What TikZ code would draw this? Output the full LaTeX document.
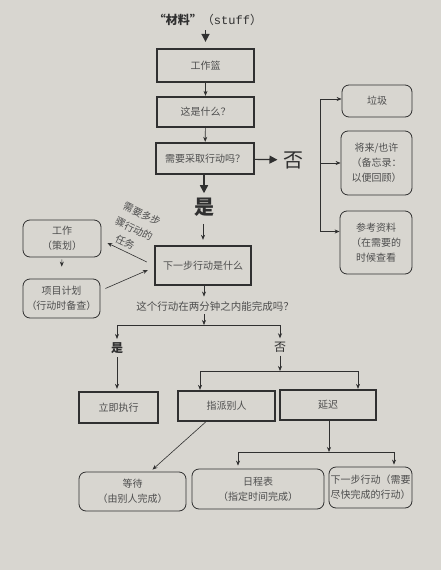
\documentclass[tikz,border=0pt]{standalone}
\usepackage{fontspec}
\setmainfont{Noto Sans CJK SC}
\newfontfamily\stufffont{Liberation Mono}
\usetikzlibrary{arrows.meta,positioning,calc}
\definecolor{paper}{RGB}{216,214,208}
\definecolor{ink}{RGB}{48,48,48}
\definecolor{txt}{RGB}{78,78,78}
\tikzset{
  thickbox/.style={draw=ink, line width=2.3pt, text=txt, inner sep=0pt,
    font=\fontsize{10}{12}\selectfont},
  softbox/.style={draw=ink, line width=0.8pt, rounded corners=7pt, text=txt,
    align=center, inner sep=0pt, font=\fontsize{10}{15}\selectfont},
  link/.style={draw=ink, line width=0.6pt, -{Stealth[length=5pt,width=4pt]}},
  biglink/.style={draw=ink, line width=1.6pt, -{Triangle[length=8pt,width=8pt]}},
  bigword/.style={text=ink, font=\fontsize{20}{22}\selectfont},
  smallword/.style={text=ink, font=\fontsize{12}{14}\selectfont},
  slanted/.style={text=txt, rotate=-26, inner sep=0pt, font=\fontsize{10}{12}\selectfont},
}
\begin{document}
\begin{tikzpicture}[x=1pt, y=-1pt]
			\fill[paper] (0,0) rectangle (441,570);
			\path[use as bounding box] (0,0) rectangle (441,570);
			\node[text=ink, font=\fontsize{12}{14}\selectfont] (stuff) at (208,20) {\textbf{“材料”}（{\stufffont stuff}）};
			\node[thickbox, minimum width=97, minimum height=33] (basket) at (205.5,65.5) {工作篮};
			\node[thickbox, minimum width=97, minimum height=30] (what) at (205.5,112) {这是什么？};
			\node[thickbox, minimum width=98, minimum height=31] (act) at (205,158.5) {需要采取行动吗？};
			\node[bigword] (no1) at (293,160) {否};
			\node[bigword, font=\fontsize{20}{22}\selectfont\bfseries] (yes1) at (204,207) {是};
			\node[thickbox, minimum width=96, minimum height=39] (next) at (203,265.5) {下一步行动是什么};
			\node[softbox, minimum width=70, minimum height=32] (trash) at (377,101) {垃圾};
			\node[softbox, minimum width=71, minimum height=64] (maybe) at (376.5,163) {将来/也许\\（备忘录：\\以便回顾）};
			\node[softbox, minimum width=72, minimum height=63] (ref) at (376,242.5) {参考资料\\（在需要的\\时候查看};
			\node[softbox, minimum width=78, minimum height=37] (plan) at (62,238.5) {工作\\（策划）};
			\node[softbox, minimum width=77, minimum height=39] (proj) at (61.5,298.5) {项目计划\\（行动时备查）};
			\node[slanted] (multia) at (142,214) {需要多步};
			\node[slanted] (multib) at (134,229) {骤行动的};
			\node[slanted] (multic) at (125,242) {任务};
			\node[text=txt, font=\fontsize{10.5}{12}\selectfont] (quest) at (215,306) {这个行动在两分钟之内能完成吗？};
			\node[smallword, font=\fontsize{12}{14}\selectfont\bfseries] (yes2) at (117,348) {是};
			\node[smallword] (no2) at (280,347) {否};
			\node[thickbox, minimum width=79, minimum height=31] (doit) at (118.5,407.5) {立即执行};
			\node[thickbox, minimum width=97, minimum height=30] (deleg) at (226.5,406) {指派别人};
			\node[thickbox, minimum width=96, minimum height=30] (defer) at (328,405) {延迟};
			\node[softbox, minimum width=107, minimum height=39] (wait) at (132.5,491.5) {等待\\（由别人完成）};
			\node[softbox, minimum width=132, minimum height=40] (cal) at (258,489) {日程表\\（指定时间完成）};
			\node[softbox, minimum width=83, minimum height=41] (asap) at (370.5,487.5) {下一步行动（需要\\尽快完成的行动）};
			\coordinate (fork) at (320,163);
			\coordinate (split) at (204,325);
			\coordinate (split2) at (280,371);
			\coordinate (split3) at (329,452);
			\draw[biglink, shorten <=1pt, shorten >=6pt] (stuff.south -| basket) -- (basket);
			\draw[link] (basket) -- (what);
			\draw[link] (what) -- (act);
			\draw[biglink, line width=1.2pt, shorten >=2pt] (act) -- (no1);
			\draw[biglink, shorten >=1pt] (act.south -| yes1) -- (yes1);
			\draw[link, shorten <=4pt, shorten >=5pt] (yes1.south -| next) -- (next);
			\draw[link] (fork) |- ([yshift=2pt]trash.west);
			\draw[link] (fork) -- (maybe.west);
			\draw[link] (fork) |- ([yshift=11pt]ref.west);
			\draw[link, shorten <=2pt, shorten >=12pt] (plan) -- (proj);
			\draw[link] ([shift={(-7pt,3.5pt)}]next.west) -- ([shift={(6pt,-4.5pt)}]plan.east);
			\draw[link] ([shift={(5pt,10pt)}]proj.east) -- ([shift={(-6pt,-4.5pt)}]next.west);
			\draw[link, shorten >=1pt] (next.south -| split) -- (quest.north -| split);
			\draw[link] (quest.south -| split) -- (split);
			\draw[link] (split) -| (yes2);
			\draw[link] (split) -| (no2);
			\draw[link, shorten >=2pt] (yes2) -- (yes2 |- doit.north);
			\draw[link] (no2) -- (split2);
			\draw[link] (split2) -| ([xshift=-26.5pt]deleg.north);
			\draw[link] (split2) -| ([xshift=30pt]defer.north);
			\draw[link] ([xshift=-21pt]deleg.south) -- ([shift={(20pt,2pt)}]wait.north);
			\draw[link] (defer.south -| split3) -- (split3);
			\draw[link, shorten >=3pt] (split3) -| ([xshift=-20pt]cal.north);
			\draw[link, shorten >=2pt] (split3) -| ([xshift=23.5pt]asap.north);
		\end{tikzpicture}
\end{document}
